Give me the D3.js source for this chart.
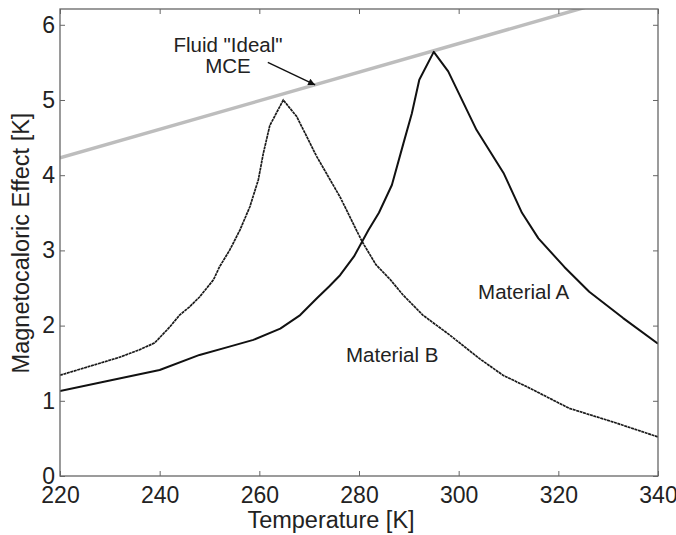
<!DOCTYPE html>
<html>
<head>
<meta charset="utf-8">
<script src="https://cdn.jsdelivr.net/npm/d3@7"></script>
<style>
  html, body { margin: 0; padding: 0; background: #fff; }
  svg { display: block; }
  text { font-family: "Liberation Sans", Arial, Helvetica, sans-serif; fill: #222; }
</style>
</head>
<body>
<svg id="chart" width="676" height="535"></svg>
<script>
// Temperature [K] of each sample and the adiabatic temperature change [K]
const materialA_T = [220, 230, 240, 248, 254, 258.8, 264.2, 268.2, 271.5, 274, 276.2, 279, 281.9, 284, 286.6, 288.9, 290.6, 292.1, 295.0, 297.9, 303.6, 309.0, 312.7, 316, 321.2, 326.2, 333, 340];
const materialA_V = [1.13, 1.27, 1.41, 1.61, 1.72, 1.81, 1.96, 2.14, 2.36, 2.52, 2.67, 2.92, 3.27, 3.50, 3.87, 4.42, 4.82, 5.27, 5.64, 5.38, 4.60, 4.03, 3.50, 3.16, 2.78, 2.45, 2.10, 1.76];

const materialB_T = [220, 224, 228, 232, 236, 239, 242, 244, 246, 248, 250.8, 252, 254.1, 256.1, 258.1, 259.8, 260.8, 262.1, 264.8, 267.5, 271.5, 276.2, 280.6, 283.4, 286.3, 288.8, 292.8, 298.1, 304.2, 308.9, 314.2, 322.2, 330.9, 340];
const materialB_V = [1.34, 1.42, 1.50, 1.58, 1.68, 1.77, 1.98, 2.14, 2.25, 2.38, 2.61, 2.78, 3.01, 3.27, 3.58, 3.94, 4.29, 4.66, 5.00, 4.78, 4.25, 3.71, 3.12, 2.81, 2.61, 2.41, 2.14, 1.88, 1.56, 1.34, 1.17, 0.90, 0.72, 0.52];

// Ideal fluid MCE: a straight line across the range
const ideal_T = [220, 340];
const ideal_V = [4.23, 6.51];

const xTicks = [220, 240, 260, 280, 300, 320, 340];
const yTicks = [0, 1, 2, 3, 4, 5, 6];

const xTitle = "Temperature [K]";
const yTitle = "Magnetocaloric Effect [K]";
const labelA = "Material A";
const labelB = "Material B";
const idealLabel = ["Fluid \"Ideal\"", "MCE"];

const svg = d3.select("#chart");
const plotLeft = 60, plotRight = 658, plotTop = 9, plotBottom = 476;

const x = d3.scaleLinear().domain([220, 340]).range([plotLeft, plotRight]);
const y = d3.scaleLinear().domain([0, 6.21]).range([plotBottom, plotTop]);

const zip = (ts, vs) => ts.map((t, i) => [t, vs[i]]);
const line = d3.line().x(d => x(d[0])).y(d => y(d[1]));

const defs = svg.append("defs");
defs.append("clipPath").attr("id", "plotArea")
  .append("rect").attr("x", plotLeft).attr("y", plotTop)
  .attr("width", plotRight - plotLeft).attr("height", plotBottom - plotTop);

defs.append("marker")
  .attr("id", "arrowHead").attr("viewBox", "0 0 10 10")
  .attr("refX", 10).attr("refY", 5)
  .attr("markerWidth", 13).attr("markerHeight", 7)
  .attr("markerUnits", "userSpaceOnUse")
  .attr("orient", "auto")
  .append("path").attr("d", "M0,0 L10,5 L0,10 Z").attr("fill", "#111");

const plot = svg.append("g").attr("clip-path", "url(#plotArea)");

plot.append("path")
  .attr("d", line(zip(ideal_T, ideal_V)))
  .attr("fill", "none").attr("stroke", "#bdbdbd").attr("stroke-width", 3.5);

plot.append("path")
  .attr("d", line(zip(materialB_T, materialB_V)))
  .attr("fill", "none").attr("stroke", "#1a1a1a").attr("stroke-width", 1.7)
  .attr("stroke-dasharray", "3,0.6");

plot.append("path")
  .attr("d", line(zip(materialA_T, materialA_V)))
  .attr("fill", "none").attr("stroke", "#111").attr("stroke-width", 2)
  .attr("stroke-linejoin", "round");

// Axes box with inward ticks on every side
const tickLen = 5;
const axisColor = "#666";
const styleAxis = g => {
  g.select(".domain").remove();
  g.selectAll(".tick line").attr("stroke", axisColor).attr("stroke-width", 1);
  g.selectAll(".tick text").attr("fill", "#222")
    .style("font-family", "'Liberation Sans', Arial, sans-serif")
    .style("font-size", "23px");
};

svg.append("g").attr("transform", `translate(0,${plotBottom})`)
  .call(d3.axisBottom(x).tickValues(xTicks).tickFormat(d3.format("d")).tickSizeInner(-tickLen).tickSizeOuter(0))
  .call(styleAxis)
  .call(g => g.selectAll(".tick text").attr("dy", "0.71em").attr("y", 11));

svg.append("g").attr("transform", `translate(0,${plotTop})`)
  .call(d3.axisTop(x).tickValues(xTicks).tickSizeInner(-tickLen).tickSizeOuter(0).tickFormat(""))
  .call(styleAxis);

svg.append("g").attr("transform", `translate(${plotLeft},0)`)
  .call(d3.axisLeft(y).tickValues(yTicks).tickFormat(d3.format("d")).tickSizeInner(-tickLen).tickSizeOuter(0))
  .call(styleAxis)
  .call(g => g.selectAll(".tick text").attr("x", -5));

svg.append("g").attr("transform", `translate(${plotRight},0)`)
  .call(d3.axisRight(y).tickValues(yTicks).tickSizeInner(-tickLen).tickSizeOuter(0).tickFormat(""))
  .call(styleAxis);

svg.append("rect")
  .attr("x", plotLeft).attr("y", plotTop)
  .attr("width", plotRight - plotLeft).attr("height", plotBottom - plotTop)
  .attr("fill", "none").attr("stroke", axisColor).attr("stroke-width", 1.3);

// Axis titles
svg.append("text")
  .attr("x", 331).attr("y", 528)
  .attr("text-anchor", "middle")
  .style("font-size", "23.5px")
  .text(xTitle);

svg.append("text")
  .attr("transform", "translate(29,243) rotate(-90)")
  .attr("text-anchor", "middle")
  .style("font-size", "23.5px")
  .text(yTitle);

// Curve labels
svg.append("text")
  .attr("x", x(303.9)).attr("y", y(2.35))
  .style("font-size", "20.5px")
  .text(labelA);

svg.append("text")
  .attr("x", x(277.4)).attr("y", y(1.51))
  .style("font-size", "20.5px")
  .text(labelB);

// Callout for the ideal line
const callout = svg.append("text")
  .attr("text-anchor", "middle")
  .style("font-size", "20.5px");
callout.append("tspan").attr("x", 228).attr("y", 52).text(idealLabel[0]);
callout.append("tspan").attr("x", 228).attr("y", 73).text(idealLabel[1]);

svg.append("line")
  .attr("x1", x(261.7)).attr("y1", y(5.50))
  .attr("x2", x(271.2)).attr("y2", y(5.20))
  .attr("stroke", "#111").attr("stroke-width", 1.4)
  .attr("marker-end", "url(#arrowHead)");
</script>
</body>
</html>
